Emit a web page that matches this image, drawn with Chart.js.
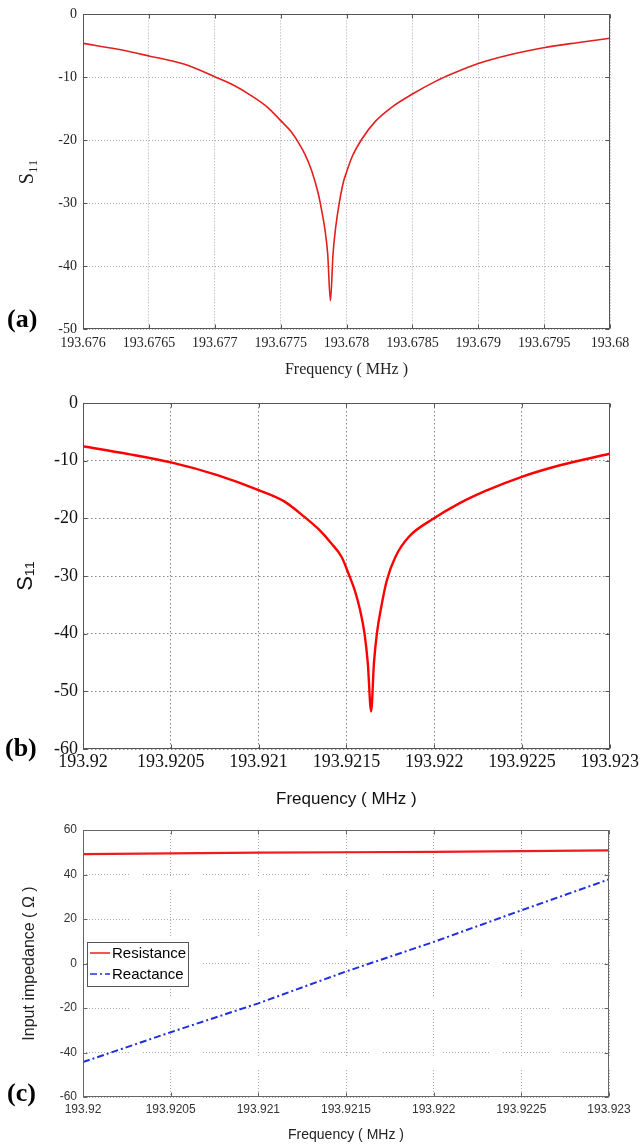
<!DOCTYPE html>
<html><head><meta charset="utf-8">
<script src="https://cdn.jsdelivr.net/npm/chart.js@4.4.1/dist/chart.umd.min.js"></script>
<style>
html,body{margin:0;padding:0;background:#fff;width:641px;height:1146px;overflow:hidden;}
canvas{position:absolute;left:0;}
.lbl{position:absolute;font-family:"Liberation Serif","DejaVu Serif",serif;font-weight:bold;font-size:26px;color:#000;line-height:1;}
</style></head><body>
<canvas id="ca" width="641" height="385" style="top:0px"></canvas>
<canvas id="cb" width="641" height="425" style="top:385px"></canvas>
<canvas id="cc" width="641" height="336" style="top:810px"></canvas>
<div class="lbl" style="left:7px;top:306px">(a)</div>
<div class="lbl" style="left:5px;top:735px">(b)</div>
<div class="lbl" style="left:7px;top:1080px">(c)</div>
<script>
// ---- Panel (a) data ----
const freqA = [193.676000, 193.676255, 193.676500, 193.676765, 193.677000, 193.677148, 193.677276, 193.677403, 193.677497, 193.677582, 193.677633, 193.677684, 193.677735, 193.677786, 193.677811, 193.677837, 193.677857, 193.677878, 193.677898, 193.677918, 193.677944, 193.677977, 193.678000, 193.678041, 193.678117, 193.678219, 193.678347, 193.678497, 193.678679, 193.678806, 193.679000, 193.679240, 193.679495, 193.679750, 193.680000];
const s11A  = [-4.6, -5.5, -6.6, -7.9, -9.9, -11.3, -12.9, -14.8, -16.8, -18.7, -20.3, -22.2, -24.8, -28.5, -31.1, -34.3, -38.0, -45.5, -38.0, -33.8, -30.1, -26.6, -25.1, -22.7, -19.8, -17.0, -14.7, -12.7, -10.6, -9.4, -7.8, -6.4, -5.3, -4.5, -3.8];
const xTicksA = ['193.676','193.6765','193.677','193.6775','193.678','193.6785','193.679','193.6795','193.68'];

// ---- Panel (b) data ----
const freqB = [193.920000, 193.920249, 193.920501, 193.920765, 193.921000, 193.921148, 193.921263, 193.921339, 193.921416, 193.921473, 193.921511, 193.921550, 193.921578, 193.921603, 193.921622, 193.921641, 193.921657, 193.921674, 193.921699, 193.921731, 193.921779, 193.921856, 193.921999, 193.922143, 193.922296, 193.922499, 193.922717, 193.923000];
const s11B  = [-7.5, -8.8, -10.3, -12.5, -15.1, -17.1, -19.8, -21.8, -24.4, -26.7, -29.5, -32.7, -35.9, -39.9, -45.1, -53.5, -45.1, -39.9, -35.3, -30.7, -26.7, -23.2, -20.0, -17.4, -15.2, -12.8, -10.8, -8.8];
const xTicksB = ['193.92','193.9205','193.921','193.9215','193.922','193.9225','193.923'];

// ---- Panel (c) data ----
const freqC = [193.9200, 193.9205, 193.9210, 193.9215, 193.9220, 193.9225, 193.9230];
const resistanceC = [49.2, 49.5, 49.8, 50.0, 50.2, 50.5, 50.8];
const reactanceC  = [-44.3, -30.9, -17.9, -3.6, 9.7, 23.9, 37.8];
const xTicksC = ['193.92','193.9205','193.921','193.9215','193.922','193.9225','193.923'];

const SERIF = '"Liberation Serif", "DejaVu Serif", serif';
const SANS = 'Arial, "Liberation Sans", "DejaVu Sans", sans-serif';

function pts(xs, ys){ return xs.map((x,i)=>({x:x, y:ys[i]})); }
function gappedDots(seg, gap){ const a=[]; for(let i=0;i<Math.round(seg/3);i++){a.push(1,2);} a[a.length-1]=gap; return a; }

const framePlugin = {
  id:'frame',
  afterDatasetsDraw(chart, args, o){
    const {ctx, chartArea:a, scales} = chart;
    const L = Math.round(a.left)+0.5, R = Math.round(a.right)-0.5, T = Math.round(a.top)+0.5, B = Math.round(a.bottom)-0.5;
    ctx.save();
    ctx.strokeStyle = o.color || '#555';
    ctx.lineWidth = 1;
    ctx.setLineDash([]);
    ctx.strokeRect(L, T, R-L, B-T);
    const len = o.len || 4;
    ctx.beginPath();
    scales.x.ticks.forEach(t=>{
      const px = Math.round(scales.x.getPixelForValue(t.value))+0.5;
      ctx.moveTo(px, B); ctx.lineTo(px, B-len);
      ctx.moveTo(px, T); ctx.lineTo(px, T+len);
    });
    scales.y.ticks.forEach(t=>{
      const py = Math.round(scales.y.getPixelForValue(t.value))+0.5;
      ctx.moveTo(L, py); ctx.lineTo(L+len, py);
      ctx.moveTo(R, py); ctx.lineTo(R-len, py);
    });
    ctx.stroke();
    ctx.restore();
  }
};

const boxLegend = {
  id:'boxLegend',
  afterDraw(chart, args, o){
    if(!o || !o.show) return;
    const ctx = chart.ctx;
    ctx.save();
    ctx.fillStyle = '#fff';
    ctx.fillRect(o.x, o.y, o.w, o.h);
    ctx.strokeStyle = '#555'; ctx.lineWidth = 1; ctx.setLineDash([]);
    ctx.strokeRect(o.x+0.5, o.y+0.5, o.w, o.h);
    ctx.font = o.font;
    ctx.textBaseline = 'middle';
    ctx.fillStyle = '#000';
    chart.data.datasets.forEach((ds,i)=>{
      const cy = o.y + o.first + i*o.gap;
      ctx.strokeStyle = ds.borderColor;
      ctx.lineWidth = 1.5;
      ctx.setLineDash(ds.borderDash || []);
      ctx.beginPath(); ctx.moveTo(o.x+3, cy); ctx.lineTo(o.x+23, cy); ctx.stroke();
      ctx.setLineDash([]);
      ctx.fillText(ds.label, o.x+25, cy+1);
    });
    ctx.restore();
  }
};

function xScale(min, max, labels, h, tickFont, tickColor, tickPad, gridColor, dash, title){
  return {
    type:'linear', min:min, max:max,
    afterBuildTicks: s => { s.ticks = labels.map(v=>({value: parseFloat(v)})); },
    afterFit: s => { s.height = h; },
    ticks:{ callback:(v,i)=>labels[i], autoSkip:false, maxRotation:0, minRotation:0, padding:tickPad, color:tickColor, font:tickFont },
    grid:{ color:gridColor, drawTicks:false, lineWidth:1 },
    border:{ display:false, dash:dash },
    title: title
  };
}
function yScale(min, max, step, w, tickFont, tickColor, tickPad, gridColor, dash, title){
  return {
    min:min, max:max,
    afterFit: s => { s.width = w; },
    ticks:{ stepSize:step, padding:tickPad, color:tickColor, font:tickFont },
    grid:{ color:gridColor, drawTicks:false, lineWidth:1 },
    border:{ display:false, dash:dash },
    title: title
  };
}
const common = { responsive:false, animation:false, events:[] };

// Panel (a)
new Chart(document.getElementById('ca'), {
  type:'line',
  data:{ datasets:[{ label:'S11', data:pts(freqA, s11A), borderColor:'#e41e1e', borderWidth:1.6, pointRadius:0, cubicInterpolationMode:'monotone', fill:false }]},
  options:Object.assign({}, common, {
    layout:{ padding:{ top:13, right:31, left:0, bottom:0 } },
    plugins:{ legend:{display:false}, tooltip:{enabled:false}, frame:{ color:'#555', len:4 } },
    scales:{
      x: xScale(193.676, 193.68, xTicksA, 56, {family:SERIF, size:14}, '#222', 6, '#aaaaaa', [1,2],
        { display:true, text:'Frequency ( MHz )', color:'#222', font:{family:SERIF, size:16}, padding:{top:0, bottom:6} }),
      y: yScale(-50, 0, 10, 83, {family:SERIF, size:14}, '#222', 6, '#aaaaaa', [1,2],
        { display:true, text:'S₁₁', color:'#222', font:{family:SERIF, size:20}, padding:{top:16, bottom:0} })
    }
  }),
  plugins:[framePlugin]
});

// Panel (b)
new Chart(document.getElementById('cb'), {
  type:'line',
  data:{ datasets:[{ label:'S11', data:pts(freqB, s11B), borderColor:'#ff0000', borderWidth:2.4, pointRadius:0, cubicInterpolationMode:'monotone', fill:false }]},
  options:Object.assign({}, common, {
    layout:{ padding:{ top:18, right:31, left:0, bottom:0 } },
    plugins:{ legend:{display:false}, tooltip:{enabled:false}, frame:{ color:'#555', len:4 } },
    scales:{
      x: xScale(193.92, 193.923, xTicksB, 61, {family:SERIF, size:18}, '#111', 2, '#888888', [1.5,2.5],
        { display:true, text:'Frequency ( MHz )', color:'#111', font:{family:SANS, size:17}, padding:{top:0, bottom:0} }),
      y: yScale(-60, 0, 10, 83, {family:SERIF, size:18}, '#111', 5, '#888888', [1.5,2.5],
        { display:true, text:'S₁₁', color:'#111', font:{family:SANS, size:22}, padding:{top:13, bottom:0} })
    }
  }),
  plugins:[framePlugin]
});

// Panel (c)
new Chart(document.getElementById('cc'), {
  type:'line',
  data:{ datasets:[
    { label:'Resistance', data:pts(freqC, resistanceC), borderColor:'#ee1c1c', borderWidth:2.2, pointRadius:0, fill:false },
    { label:'Reactance', data:pts(freqC, reactanceC), borderColor:'#1f2ee0', borderWidth:2, borderDash:[7,3,2,3], pointRadius:0, fill:false }
  ]},
  options:Object.assign({}, common, {
    layout:{ padding:{ top:20, right:32, left:0, bottom:0 } },
    plugins:{ legend:{display:false}, tooltip:{enabled:false}, frame:{ color:'#666', len:4 },
      boxLegend:{ show:true, x:87, y:132, w:101, h:44, first:11, gap:21, font:'15px ' + SANS } },
    scales:{
      x: xScale(193.92, 193.923, xTicksC, 49, {family:SANS, size:12}, '#333', 5, '#aaaaaa', gappedDots(48, 14),
        { display:true, text:'Frequency ( MHz )', color:'#222', font:{family:SANS, size:14}, padding:{top:0, bottom:2} }),
      y: yScale(-60, 60, 20, 83, {family:SANS, size:12}, '#333', 6, '#aaaaaa', gappedDots(48, 14),
        { display:true, text:'Input impedance ( Ω )', color:'#222', font:{family:SANS, size:16}, padding:{top:20, bottom:0} })
    }
  }),
  plugins:[framePlugin, boxLegend]
});
</script>
</body></html>
